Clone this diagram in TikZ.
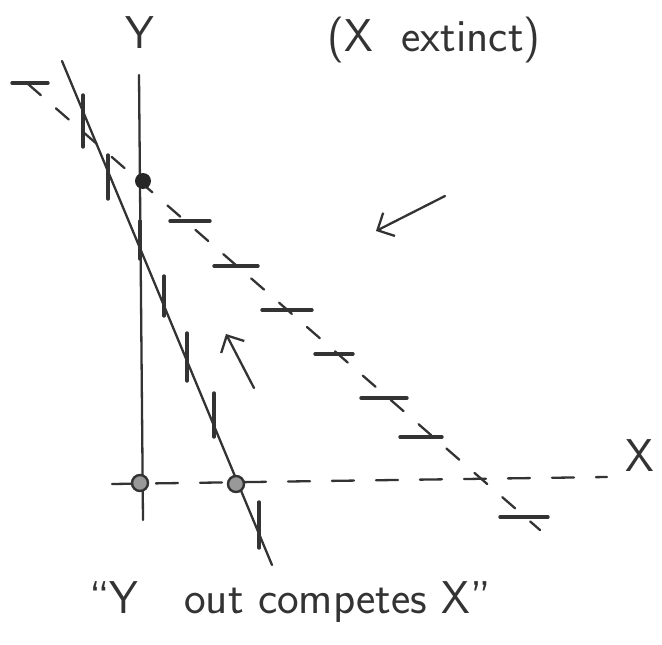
\documentclass[tikz,border=0pt]{standalone}
\usetikzlibrary{arrows.meta}
\newcommand{\vtick}[3]{\draw[tickline] (#1,#2-#3) -- (#1,#2+#3);}
\newcommand{\htick}[3]{\draw[tickline] (#1-#3,#2) -- (#1+#3,#2);}

\begin{document}
\begin{tikzpicture}[x = 1pt, y = -1pt, line cap = round, black!80, >={Straight Barb[length=13pt,width=26pt]},
  pen/.style = {line width = 2.3pt},
  tickline/.style = {line width = 3.4pt},
  eqpt/.style = {circle, draw, line width = 2.4pt, fill = black!40, inner sep = 0pt, minimum size = 16pt},
  fulldot/.style = {circle, fill = black!85, inner sep = 0pt, minimum size = 16pt},
  lbl/.style = {font = \sffamily\fontsize{46}{50}\selectfont}]
\useasboundingbox (0,0) rectangle (662,645);
\coordinate (ytop) at (139,75);
\coordinate (ybot) at (143,520);
\coordinate (xleft) at (112,484);
\coordinate (xright) at (607,477);
\coordinate (ynull1) at (62,61);
\coordinate (ynull2) at (272,565);
\coordinate (xnull1) at (28,84);
\coordinate (xnull2) at (540,530);
\draw[pen] (ytop) -- (ybot);
\draw[pen, dash pattern = on 22pt off 22pt] (xleft) -- (xright);
\draw[pen] (ynull1) -- (ynull2);
\draw[pen, dash pattern = on 17pt off 20pt] (xnull1) -- (xnull2);
\vtick{83}{121}{26}
\vtick{108}{177}{22}
\vtick{140}{240}{19}
\vtick{164}{296}{20}
\vtick{187}{357}{24}
\vtick{214}{415}{22}
\vtick{259}{525}{23}
\htick{30}{83}{18}
\htick{190}{221}{20}
\htick{236}{266}{22}
\htick{287}{310}{25}
\htick{334}{354}{19}
\htick{384}{398}{23}
\htick{421}{437}{21}
\htick{524}{517}{24}
\node[eqpt] (orig) at (140,483) {};
\node[eqpt] (xstar) at (236,484) {};
\node[fulldot] (ystar) at (143,181) {};
\coordinate (f1s) at (445,196);
\coordinate (f1e) at (376,231);
\coordinate (f2s) at (254,388);
\coordinate (f2e) at (226,334);
\draw[pen, ->] (f1s) -- (f1e);
\draw[pen, ->] (f2s) -- (f2e);
\node[lbl] (ylab) at (140,33) {Y};
\node[lbl] (xlab) at (640,456) {X};
\node[lbl] (extinct) at (434,40) {(X\ \ extinct)};
\node[lbl] (caption) at (290,602) {``Y\quad out competes\ X''};
\end{tikzpicture}
\end{document}
